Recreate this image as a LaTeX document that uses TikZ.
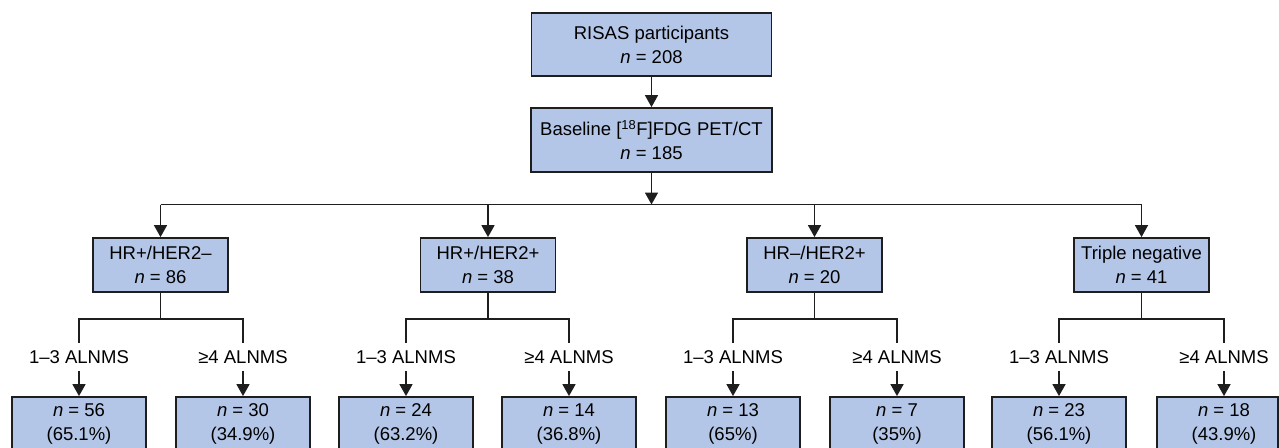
\documentclass[tikz,border=0pt]{standalone}
\usepackage{fontspec}
\setmainfont{Liberation Sans}
\usetikzlibrary{arrows.meta}
\definecolor{boxfill}{RGB}{180,198,231}
\definecolor{linecol}{RGB}{30,30,30}
\begin{document}
\begin{tikzpicture}[x=1pt,y=-1pt,
  font=\fontsize{18.5}{24}\selectfont,
  box/.style={draw=linecol, line width=1.8pt, fill=boxfill, align=center, inner sep=0pt},
  topbox/.style={box, minimum width=240pt, minimum height=63pt},
  grpbox/.style={box, minimum width=135pt, minimum height=54pt},
  leafbox/.style={box, minimum width=134pt, minimum height=54pt},
  lbl/.style={inner sep=0pt, minimum height=28pt},
  conn/.style={draw=linecol, line width=1.6pt},
  arr/.style={conn, -{Triangle[width=13pt,length=12pt]}}]
\useasboundingbox (0,0) rectangle (1279,447);

\node[topbox] (top) at (651.5,44.5) {RISAS participants\\\textit{n} = 208};
\node[topbox, minimum width=241pt, minimum height=64pt] (base) at (651.5,140) {Baseline [\textsuperscript{18}F]FDG PET/CT\\\textit{n} = 185};
\coordinate (bus) at (651.5,204.5);

\node[grpbox] (g1) at (160.5,265) {HR+/HER2–\\\textit{n} = 86};
\node[grpbox] (g2) at (488,265) {HR+/HER2+\\\textit{n} = 38};
\node[grpbox] (g3) at (814.5,265) {HR–/HER2+\\\textit{n} = 20};
\node[grpbox] (g4) at (1141.5,265) {Triple negative\\\textit{n} = 41};

\node[lbl] (l1) at (79,357) {1–3 ALNMS};
\node[lbl] (l2) at (243,357) {≥4 ALNMS};
\node[lbl] (l3) at (406,357) {1–3 ALNMS};
\node[lbl] (l4) at (569,357) {≥4 ALNMS};
\node[lbl] (l5) at (733,357) {1–3 ALNMS};
\node[lbl] (l6) at (897,357) {≥4 ALNMS};
\node[lbl] (l7) at (1059,357) {1–3 ALNMS};
\node[lbl] (l8) at (1224,357) {≥4 ALNMS};

\node[leafbox] (b1) at (79,424) {\textit{n} = 56\\(65.1\%)};
\node[leafbox] (b2) at (243,424) {\textit{n} = 30\\(34.9\%)};
\node[leafbox] (b3) at (406,424) {\textit{n} = 24\\(63.2\%)};
\node[leafbox] (b4) at (569,424) {\textit{n} = 14\\(36.8\%)};
\node[leafbox] (b5) at (733,424) {\textit{n} = 13\\(65\%)};
\node[leafbox] (b6) at (897,424) {\textit{n} = 7\\(35\%)};
\node[leafbox] (b7) at (1059,424) {\textit{n} = 23\\(56.1\%)};
\node[leafbox, minimum width=121pt] (b8) at (1217.5,424) {\hspace*{13pt}\textit{n} = 18\\\hspace*{13pt}(43.9\%)};

\draw[arr] (top) -- (base);
\draw[arr] (base) -- (bus);
\draw[conn] (g1 |- bus) -- (g4 |- bus);
\foreach \g in {g1,g2,g3,g4} {\draw[arr] (\g |- bus) -- (\g);}

\foreach \g/\a/\b in {g1/l1/l2, g2/l3/l4, g3/l5/l6, g4/l7/l8} {
  \draw[conn] (\g.south) -- ++(0,26) coordinate (j\g);
  \draw[conn] (\a.north) |- (j\g) -| (\b.north);
}
\foreach \l/\b in {l1/b1,l2/b2,l3/b3,l4/b4,l5/b5,l6/b6,l7/b7,l8/b8} {
  \draw[arr] (\l.south) -- (\l.south |- \b.north);
}
\end{tikzpicture}
\end{document}
